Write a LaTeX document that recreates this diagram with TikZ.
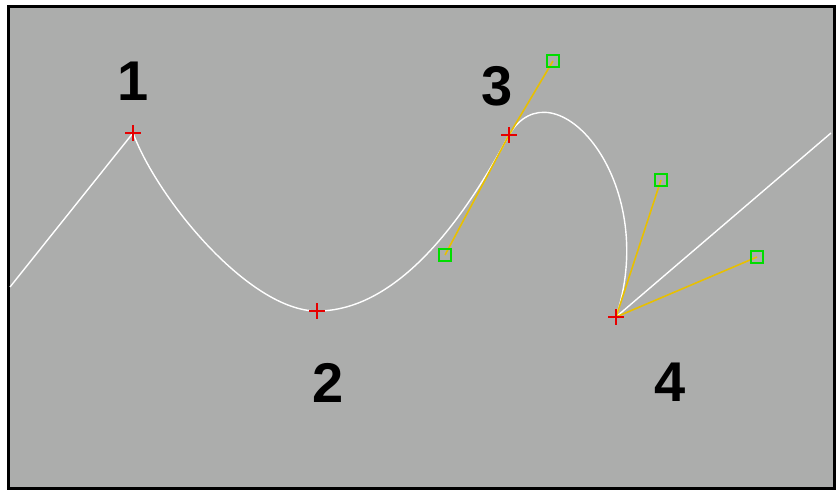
\documentclass[tikz,border=0pt]{standalone}
\usepackage{fontspec}
\setmainfont{Liberation Sans}
\definecolor{bggray}{RGB}{172,173,172}
\definecolor{handleyellow}{RGB}{232,192,0}
\definecolor{boxgreen}{RGB}{0,220,0}
\definecolor{plusred}{RGB}{230,0,0}
\begin{document}
\begin{tikzpicture}[x=1pt,y=-1pt,
  curveline/.style={white,line width=1.4pt},
  handleline/.style={handleyellow,line width=1.6pt},
  handlebox/.style={draw=boxgreen,line width=1.5pt,minimum size=12pt,inner sep=0pt,fill=none},
  numlabel/.style={font=\fontsize{56}{56}\selectfont\bfseries,inner sep=0pt},
  vplus/.pic={\draw[plusred,line width=1.7pt] (-8,0)--(8,0) (0,-8)--(0,8);}]
\useasboundingbox (0,0) rectangle (838,490);
\draw[line width=3pt,fill=bggray] (8,6) rectangle (834,488);
% coordinates
\coordinate (s) at (10,287);
\coordinate (p1) at (133,133);
\coordinate (p2) at (317,311);
\coordinate (p3) at (509,135);
\coordinate (p4) at (616,317);
\coordinate (e) at (831,133);
\coordinate (h3a) at (445,255);
\coordinate (h3b) at (553,61);
\coordinate (h4a) at (661,180);
\coordinate (h4b) at (757,257);
% curve
\draw[curveline] (s) -- (p1)
  .. controls (158,200) and (250,311) .. (p2)
  .. controls (380,311) and (h3a) .. (p3)
  .. controls (h3b) and (h4a) .. (p4)
  -- (e);
% handles
\draw[handleline] (h3a) -- (p3) -- (h3b);
\draw[handleline] (h4a) -- (p4) -- (h4b);
\node[handlebox] (b3a) at (h3a) {};
\node[handlebox] (b3b) at (h3b) {};
\node[handlebox] (b4a) at (h4a) {};
\node[handlebox] (b4b) at (h4b) {};
% vertices
\pic at (p1) {vplus};
\pic at (p2) {vplus};
\pic at (p3) {vplus};
\pic at (p4) {vplus};
% labels
\node[numlabel] (l1) at (133,81) {1};
\node[numlabel] (l2) at (328,383) {2};
\node[numlabel] (l3) at (497,86) {3};
\node[numlabel] (l4) at (670,382) {4};
\end{tikzpicture}
\end{document}
